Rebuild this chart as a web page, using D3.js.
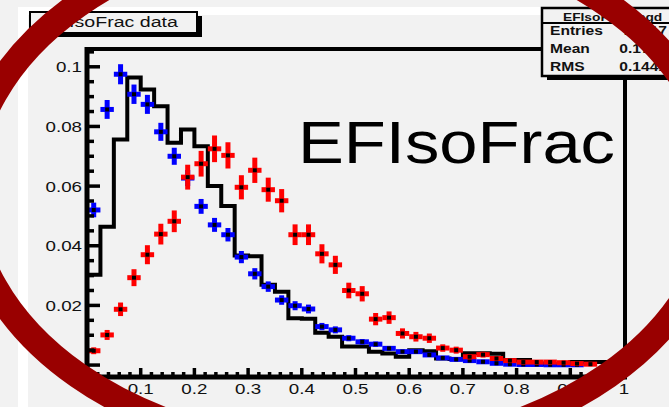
<!DOCTYPE html>
<html><head><meta charset="utf-8">
<script src="https://cdn.jsdelivr.net/npm/d3@7/dist/d3.min.js"></script>
<style>html,body{margin:0;padding:0;background:#f2f2f2;overflow:hidden}</style>
</head><body><svg id="c" width="669" height="407"></svg>
<script>
// ---- data ----
const binCenters = [0.0125,0.0375,0.0625,0.0875,0.1125,0.1375,0.1625,0.1875,0.2125,0.2375,
  0.2625,0.2875,0.3125,0.3375,0.3625,0.3875,0.4125,0.4375,0.4625,0.4875,
  0.5125,0.5375,0.5625,0.5875,0.6125,0.6375,0.6625,0.6875,0.7125,0.7375,
  0.7625,0.7875,0.8125,0.8375,0.8625,0.8875,0.9125,0.9375,0.9625,0.9875];
const binWidth = 0.025;
const histBlack = [0.0303,0.0464,0.0756,0.0964,0.0924,0.0868,0.0745,0.0790,0.0734,0.0600,
  0.0533,0.0367,0.0365,0.0269,0.0246,0.0157,0.0155,0.0108,0.0095,0.0062,
  0.0062,0.0045,0.0039,0.0028,0.0050,0.0046,0.0022,0.0020,0.0040,0.0040,
  0.0038,0.0017,0.0017,0.0005,0.0002,0.0002,0.0010,0.0010,0.0010,0.0010];
const blueValues = [0.052,0.0857,0.0975,0.0908,0.0874,0.0782,0.070,0.0627,0.0532,0.047,
  0.0437,0.0362,0.0306,0.0263,0.0218,0.0199,0.0188,0.0129,0.0118,0.009,
  0.0078,0.007,0.0056,0.0045,0.0045,0.0034,0.0024,0.0019,0.0015,0.0011,
  0.0006,0.0003,0.0002,0.0002,0.0001,0.0001,0.0001,0,0,0];
const blueErrors = [0.00246,0.00316,0.00337,0.00325,0.00319,0.00302,0.00286,0.0027,0.00249,0.00234,
  0.00226,0.00205,0.00189,0.00175,0.00159,0.00152,0.00148,0.00123,0.00117,0.00102,
  0.00095,0.0009,0.00081,0.00072,0.00072,0.00063,0.00053,0.00047,0.00042,0.00036,
  0.00026,0.00019,0.00015,0.00015,0.00011,0.00011,0.00011,0,0,0];
const redValues = [0.0048,0.0101,0.0187,0.0293,0.037,0.0439,0.0482,0.063,0.0675,0.0725,
  0.0703,0.0596,0.0653,0.0588,0.0551,0.0437,0.0437,0.0373,0.0336,0.025,
  0.0239,0.0154,0.0159,0.0106,0.0095,0.009,0.0057,0.005,0.0028,0.0035,
  0.0022,0.0015,0.001,0.001,0.001,0.0008,0.0005,0.0003,0,0];
const redErrors = [0.00115,0.00167,0.00227,0.00284,0.00319,0.00348,0.00364,0.00417,0.00431,0.00447,
  0.0044,0.00405,0.00424,0.00403,0.0039,0.00347,0.00347,0.00321,0.00304,0.00262,
  0.00257,0.00206,0.00209,0.00171,0.00162,0.00158,0.00125,0.00117,0.00088,0.00098,
  0.00078,0.00064,0.00052,0.00052,0.00052,0.00047,0.00037,0.00029,0,0];
const xTickValues = [0.1,0.2,0.3,0.4,0.5,0.6,0.7,0.8,0.9,1];
const xTickLabels = ["0.1","0.2","0.3","0.4","0.5","0.6","0.7","0.8","0.9","1"];
const yTickValues = [0,0.02,0.04,0.06,0.08,0.1];
const yTickLabels = ["0","0.02","0.04","0.06","0.08","0.1"];
const titleText = "EFIsoFrac data";
const bigLabel = "EFIsoFrac";
const statsName = "EFIsoFrac_bgd";
const statsRows = [["Entries","14217"],["Mean","0.1783"],["RMS","0.1441"]];

// ---- drawing ----
const svg = d3.select("#c");
const FONT = "'Liberation Sans', Arial, Helvetica, sans-serif";
const x = d3.scaleLinear().domain([0,1]).range([87,624]);
const y = d3.scaleLinear().domain([-0.004,0.1063]).range([377,48]);

function txt(g, px, py, s, size, weight, anchor, sx){
  return g.append("text").attr("transform",`translate(${px},${py}) scale(${sx},1)`)
    .attr("font-family",FONT).attr("font-size",size).attr("font-weight",weight||"normal")
    .attr("text-anchor",anchor||"start").attr("fill","#111").text(s);
}

// background & pad bevel
svg.append("rect").attr("width",669).attr("height",407).attr("fill","#f2f2f2");
svg.append("rect").attr("x",18).attr("y",7).attr("width",10).attr("height",400).attr("fill","#ffffff");
svg.append("rect").attr("x",18).attr("y",7).attr("width",651).attr("height",8).attr("fill","#ffffff");
svg.append("rect").attr("x",28).attr("y",15).attr("width",641).attr("height",392).attr("fill","#f2f2f2");

// frame lines
svg.append("line").attr("x1",87).attr("x2",625).attr("y1",49).attr("y2",49).attr("stroke","#000").attr("stroke-width",4);
svg.append("line").attr("x1",625).attr("x2",625).attr("y1",49).attr("y2",378).attr("stroke","#000").attr("stroke-width",4);

// histogram (black step)
const stepPts = [];
binCenters.forEach((c,i)=>{
  stepPts.push([x(c-binWidth/2), y(histBlack[i])]);
  stepPts.push([x(c+binWidth/2), y(histBlack[i])]);
});
stepPts.unshift([x(0), y(0)]);
svg.append("path").attr("d", d3.line()(stepPts)).attr("fill","none")
  .attr("stroke","#000").attr("stroke-width",4).attr("stroke-linejoin","miter");

// error-bar points
function drawPoints(vals, errs, color){
  const g = svg.append("g");
  vals.forEach((v,i)=>{
    if (v<=0) return;
    const cx = x(binCenters[i]), cy = y(v);
    g.append("line").attr("x1",x(binCenters[i]-binWidth/2)).attr("x2",x(binCenters[i]+binWidth/2))
      .attr("y1",cy).attr("y2",cy).attr("stroke",color).attr("stroke-width",5);
    g.append("line").attr("x1",cx).attr("x2",cx).attr("y1",y(v+errs[i])).attr("y2",y(v-errs[i]))
      .attr("stroke",color).attr("stroke-width",5);
    g.append("rect").attr("x",cx-2).attr("y",cy-2).attr("width",4).attr("height",4).attr("fill","#000");
  });
}
drawPoints(blueValues, blueErrors, "#0000ff");
drawPoints(redValues, redErrors, "#ff0000");

// axes
const yAxis = svg.append("g");
yAxis.append("line").attr("x1",87).attr("x2",87).attr("y1",47).attr("y2",380).attr("stroke","#000").attr("stroke-width",5);
const yMinor = d3.range(0,0.1051,0.005).filter(v=>!yTickValues.some(t=>Math.abs(t-v)<1e-6));
yMinor.forEach(v=>yAxis.append("line").attr("x1",87).attr("x2",94).attr("y1",y(v)).attr("y2",y(v)).attr("stroke","#000").attr("stroke-width",3.5));
yTickValues.forEach((v,i)=>{
  yAxis.append("line").attr("x1",87).attr("x2",100).attr("y1",y(v)).attr("y2",y(v)).attr("stroke","#000").attr("stroke-width",3.5);
  txt(yAxis, 82, y(v)+5.5, yTickLabels[i], 15, "normal", "end", 1.25);
});
const xAxis = svg.append("g");
xAxis.append("line").attr("x1",85).attr("x2",627).attr("y1",377).attr("y2",377).attr("stroke","#000").attr("stroke-width",5);
const xMinor = d3.range(0.02,1,0.02).filter(v=>!xTickValues.some(t=>Math.abs(t-v)<1e-6));
xMinor.forEach(v=>xAxis.append("line").attr("x1",x(v)).attr("x2",x(v)).attr("y1",377).attr("y2",372).attr("stroke","#000").attr("stroke-width",3.5));
xTickValues.forEach((v,i)=>{
  xAxis.append("line").attr("x1",x(v)).attr("x2",x(v)).attr("y1",377).attr("y2",368).attr("stroke","#000").attr("stroke-width",3.5);
  txt(xAxis, x(v), 394, xTickLabels[i], 15, "normal", "middle", 1.25);
});

// big label
svg.append("text").attr("x",298).attr("y",163).attr("font-family",FONT).attr("font-size",60)
  .attr("textLength",317).attr("lengthAdjust","spacingAndGlyphs").attr("fill","#000").text(bigLabel);

// title box
const tb = svg.append("g");
tb.append("rect").attr("x",35).attr("y",16).attr("width",167).attr("height",21).attr("fill","#000");
tb.append("rect").attr("x",30).attr("y",12).attr("width",167).attr("height",21).attr("fill","#f2f2f2").attr("stroke","#000").attr("stroke-width",2);
txt(tb, 111, 27, titleText, 14, "normal", "middle", 1.4);

// stats box
const sb = svg.append("g");
sb.append("rect").attr("x",547).attr("y",12).attr("width",140).attr("height",68).attr("fill","#000");
sb.append("rect").attr("x",542).attr("y",8).attr("width",140).attr("height",68).attr("fill","#f2f2f2").attr("stroke","#000").attr("stroke-width",2.5);
sb.append("line").attr("x1",542).attr("x2",682).attr("y1",23).attr("y2",23).attr("stroke","#000").attr("stroke-width",2);
txt(sb, 563, 21, statsName, 11, "bold", "start", 1.25);
const rowY = [35,53,71];
statsRows.forEach((r,i)=>{
  txt(sb, 550, rowY[i], r[0], 13, "bold", "start", 1.2);
  txt(sb, 667, rowY[i], r[1], 13, "bold", "end", 1.2);
});

// red ring overlay
svg.append("ellipse").attr("cx",343).attr("cy",190).attr("rx",375).attr("ry",262)
  .attr("fill","none").attr("stroke","#990000").attr("stroke-width",26);
</script></body></html>
